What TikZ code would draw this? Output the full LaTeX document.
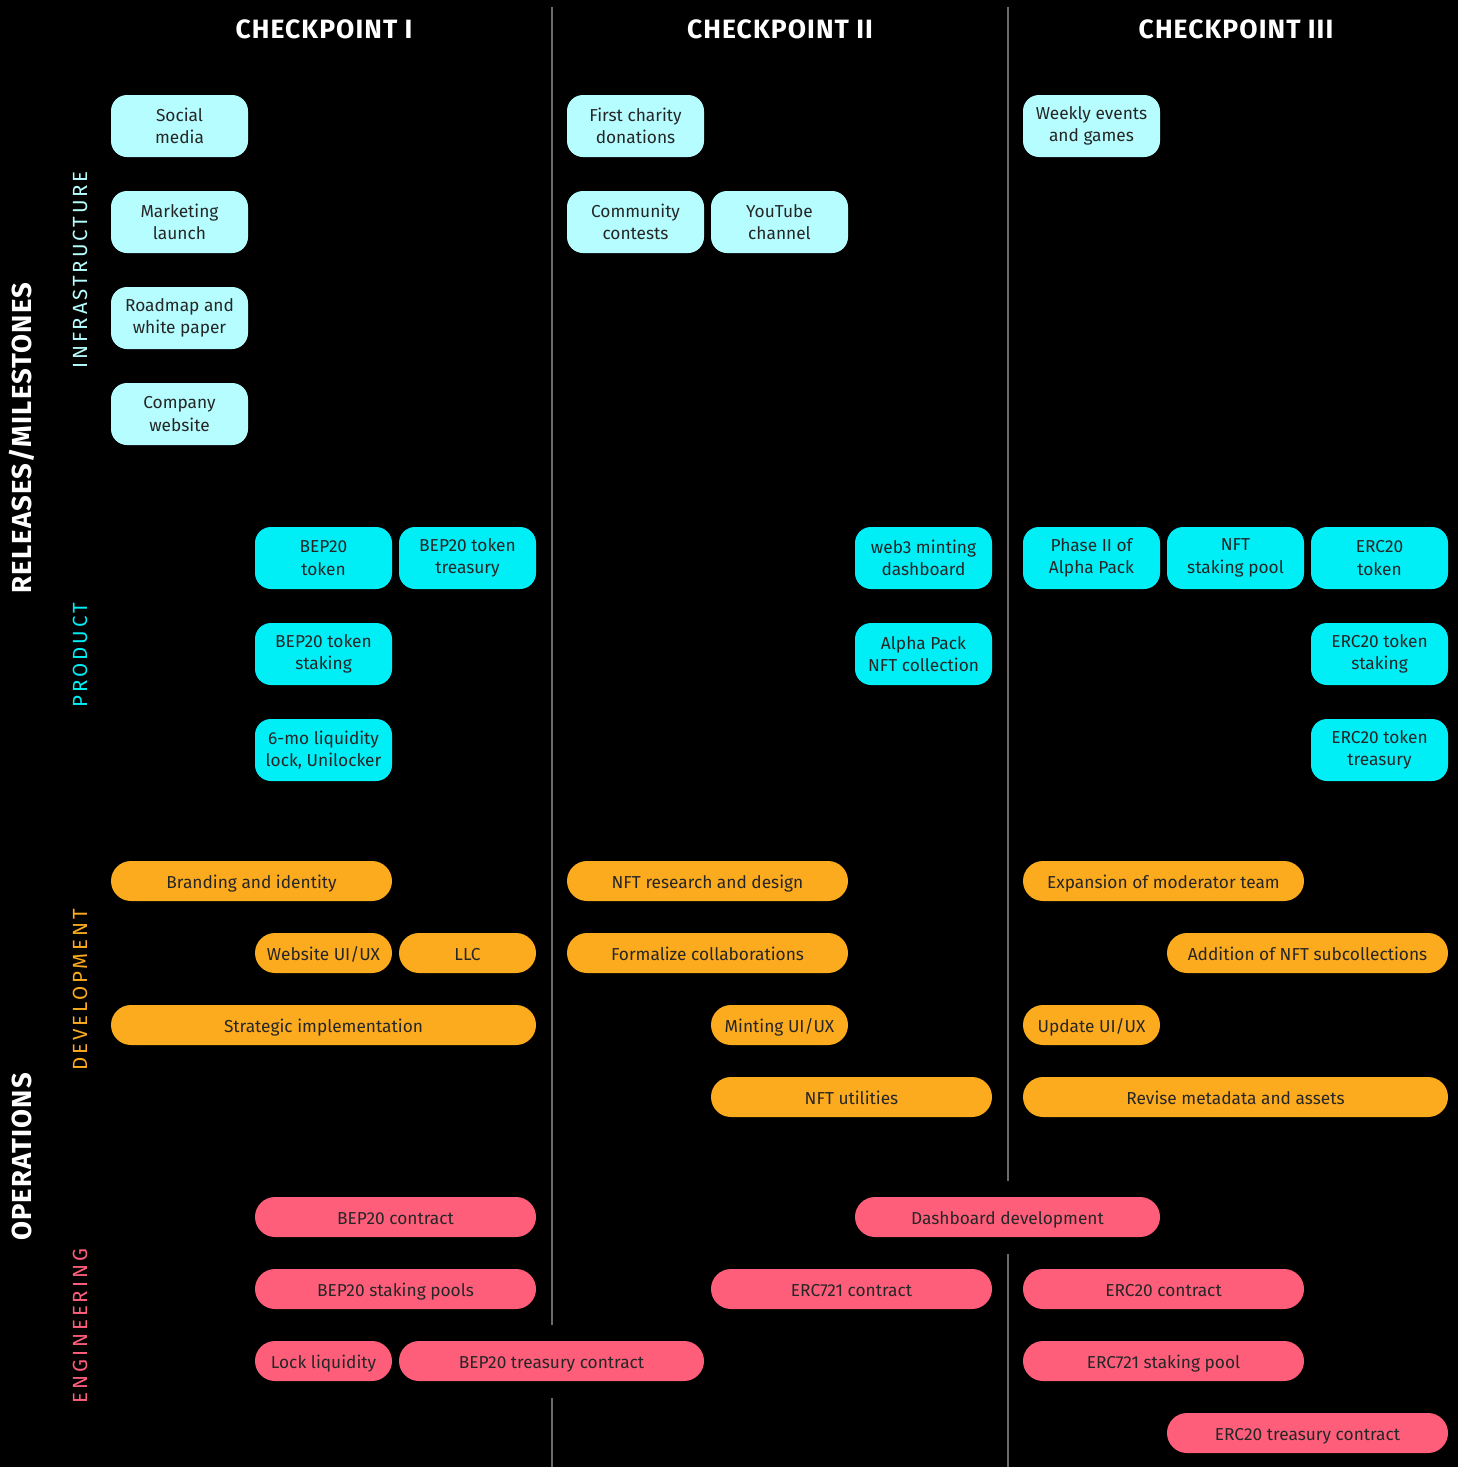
\documentclass[tikz,border=0pt]{standalone}
\usepackage{fontspec}
\setmainfont{Fira Sans}
\newfontfamily\hdrfont[LetterSpace=4]{Fira Sans}
\newfontfamily\subfont[LetterSpace=14]{Fira Sans}
\definecolor{bgc}{HTML}{000000}
\definecolor{infc}{HTML}{B5FDFE}
\definecolor{prodc}{HTML}{00EEF6}
\definecolor{devc}{HTML}{FDAB1E}
\definecolor{engc}{HTML}{FF5E7B}
\definecolor{txtc}{HTML}{262626}
\definecolor{divc}{HTML}{6A6A6A}
\tikzset{
  box/.style={inner sep=0pt, align=center, text=txtc, font=\fontsize{17.3}{22.5}\selectfont},
  infra/.style={box, fill=infc, minimum height=62pt, rounded corners=16pt},
  prod/.style={box, fill=prodc, minimum height=62pt, rounded corners=16pt},
  dev/.style={box, fill=devc, minimum height=40pt, rounded corners=20pt, text height=16pt, text depth=2pt},
  eng/.style={box, fill=engc, minimum height=40pt, rounded corners=20pt, text height=16pt, text depth=2pt},
  hdr/.style={text=white, font=\hdrfont\bfseries\fontsize{26.5}{30}\selectfont},
  mainlbl/.style={text=white, rotate=90, font=\hdrfont\bfseries\fontsize{27.5}{30}\selectfont},
  sublbl/.style={rotate=90, font=\subfont\fontsize{20.5}{22}\selectfont},
  divider/.style={draw=divc, line width=1.5pt}
}
\newcommand\cellnode[6]{\node[#2, minimum width={(#4-#3)*1pt}] (#1) at ({(#3+#4)/2},#5) {#6};}
\begin{document}
\begin{tikzpicture}[x=1pt,y=-1pt]
\fill[bgc] (0,0) rectangle (1458,1467);
\useasboundingbox (0,0) rectangle (1458,1467);
% dividers
\coordinate (d1a) at (552,7); \coordinate (d1b) at (552,1325);
\coordinate (d1c) at (552,1398); \coordinate (d1d) at (552,1467);
\coordinate (d2a) at (1008,7); \coordinate (d2b) at (1008,1181);
\coordinate (d2c) at (1008,1254); \coordinate (d2d) at (1008,1467);
\draw[divider] (d1a) -- (d1b); \draw[divider] (d1c) -- (d1d);
\draw[divider] (d2a) -- (d2b); \draw[divider] (d2c) -- (d2d);
% headers
\node[hdr] (h1) at (324,29) {CHECKPOINT I};
\node[hdr] (h2) at (780,29) {CHECKPOINT II};
\node[hdr] (h3) at (1236,29) {CHECKPOINT III};
% side labels
\node[mainlbl] (lrel) at (22,438) {RELEASES/MILESTONES};
\node[mainlbl] (lops) at (22,1157) {OPERATIONS};
\node[sublbl, text=infc] (linf) at (80,270) {INFRASTRUCTURE};
\node[sublbl, text=prodc] (lprod) at (80,655) {PRODUCT};
\node[sublbl, text=devc] (ldev) at (80,990) {DEVELOPMENT};
\node[sublbl, text=engc] (leng) at (80,1326) {ENGINEERING};
% infrastructure
\cellnode{i1}{infra}{111}{248}{126}{Social\\media}
\cellnode{i2}{infra}{111}{248}{222}{Marketing\\launch}
\cellnode{i3}{infra}{111}{248}{318}{Roadmap and\\white paper}
\cellnode{i4}{infra}{111}{248}{414}{Company\\website}
\cellnode{i5}{infra}{567}{704}{126}{First charity\\donations}
\cellnode{i6}{infra}{567}{704}{222}{Community\\contests}
\cellnode{i7}{infra}{711}{848}{222}{YouTube\\channel}
\cellnode{i8}{infra}{1023}{1160}{126}{Weekly events\\and games}
% product
\cellnode{p1}{prod}{255}{392}{558}{BEP20\\token}
\cellnode{p2}{prod}{399}{536}{558}{BEP20 token\\treasury}
\cellnode{p3}{prod}{255}{392}{654}{BEP20 token\\staking}
\cellnode{p4}{prod}{255}{392}{750}{6-mo liquidity\\lock, Unilocker}
\cellnode{p5}{prod}{855}{992}{558}{web3 minting\\dashboard}
\cellnode{p6}{prod}{855}{992}{654}{Alpha Pack\\NFT collection}
\cellnode{p7}{prod}{1023}{1160}{558}{Phase II of\\Alpha Pack}
\cellnode{p8}{prod}{1167}{1304}{558}{NFT\\staking pool}
\cellnode{p9}{prod}{1311}{1448}{558}{ERC20\\token}
\cellnode{p10}{prod}{1311}{1448}{654}{ERC20 token\\staking}
\cellnode{p11}{prod}{1311}{1448}{750}{ERC20 token\\treasury}
% development
\cellnode{v1}{dev}{111}{392}{881}{Branding and identity}
\cellnode{v2}{dev}{255}{392}{953}{Website UI/UX}
\cellnode{v3}{dev}{399}{536}{953}{LLC}
\cellnode{v4}{dev}{111}{536}{1025}{Strategic implementation}
\cellnode{v5}{dev}{567}{848}{881}{NFT research and design}
\cellnode{v6}{dev}{567}{848}{953}{Formalize collaborations}
\cellnode{v7}{dev}{711}{848}{1025}{Minting UI/UX}
\cellnode{v8}{dev}{711}{992}{1097}{NFT utilities}
\cellnode{v9}{dev}{1023}{1304}{881}{Expansion of moderator team}
\cellnode{v10}{dev}{1167}{1448}{953}{Addition of NFT subcollections}
\cellnode{v11}{dev}{1023}{1160}{1025}{Update UI/UX}
\cellnode{v12}{dev}{1023}{1448}{1097}{Revise metadata and assets}
% engineering
\cellnode{e1}{eng}{255}{536}{1217}{BEP20 contract}
\cellnode{e2}{eng}{255}{536}{1289}{BEP20 staking pools}
\cellnode{e3}{eng}{255}{392}{1361}{Lock liquidity}
\cellnode{e4}{eng}{399}{704}{1361}{BEP20 treasury contract}
\cellnode{e5}{eng}{855}{1160}{1217}{Dashboard development}
\cellnode{e6}{eng}{711}{992}{1289}{ERC721 contract}
\cellnode{e7}{eng}{1023}{1304}{1289}{ERC20 contract}
\cellnode{e8}{eng}{1023}{1304}{1361}{ERC721 staking pool}
\cellnode{e9}{eng}{1167}{1448}{1433}{ERC20 treasury contract}
\end{tikzpicture}
\end{document}
